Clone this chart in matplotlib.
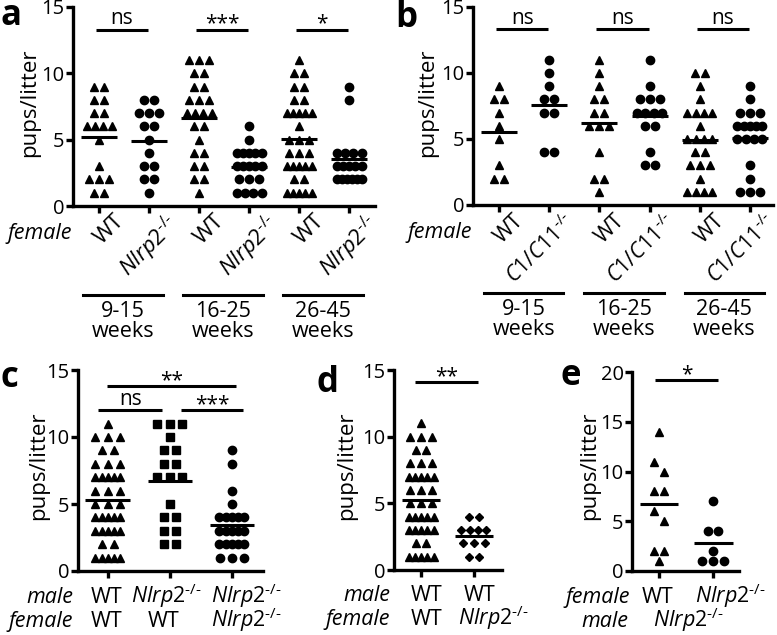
import numpy as np
import matplotlib
matplotlib.use("Agg")
import matplotlib.pyplot as plt

plt.rcParams['font.family'] = ['Open Sans', 'DejaVu Sans']
plt.rcParams['mathtext.fontset'] = 'custom'
plt.rcParams['mathtext.rm'] = 'Open Sans'
plt.rcParams['mathtext.it'] = 'Open Sans:italic'
plt.rcParams['mathtext.default'] = 'it'

# ---- data: pups per litter for every mating group ----
# panel a: WT vs Nlrp2-/- females, by age of the female
a_wt_9_15 = [9, 9, 8, 8, 7, 7, 6, 6, 6, 6, 5, 3, 2, 2, 2, 1, 1]
a_ko_9_15 = [8, 8, 7, 7, 7, 6, 6, 5, 4, 3, 3, 2, 2, 1]
a_wt_16_25 = [11, 11, 11, 10, 10, 9, 9, 8, 8, 8, 7, 7, 7, 7, 6, 6, 5, 4, 4, 3, 3, 2, 2, 1]
a_ko_16_25 = [6, 5, 4, 4, 4, 4, 4, 3, 3, 3, 3, 3, 2, 2, 2, 1, 1, 1, 1]
a_wt_26_45 = [11, 10, 10, 9, 9, 8, 8, 7, 7, 7, 7, 7, 6, 5, 5, 5, 4, 4, 4,
              3, 3, 3, 3, 3, 2, 2, 1, 1, 1, 1, 1]
a_ko_26_45 = [9, 8, 4, 4, 4, 4, 3, 3, 3, 3, 3, 2, 2, 2, 2, 2, 2]

# panel b: WT vs C1/C11-/- females
b_wt_9_15 = [9, 8, 8, 7, 6, 5, 3, 2, 2]
b_c1_9_15 = [11, 10, 9, 8, 8, 7, 7, 4, 4]
b_wt_16_25 = [11, 10, 9, 8, 8, 7, 7, 6, 6, 6, 4, 2, 2, 1]
b_c1_16_25 = [11, 9, 8, 8, 8, 7, 7, 7, 7, 6, 6, 4, 3, 3]
b_wt_26_45 = [10, 10, 9, 8, 7, 7, 7, 7, 6, 5, 5, 5, 5, 4, 4, 3, 3, 3, 2, 1, 1, 1, 1]
b_c1_26_45 = [9, 8, 7, 7, 7, 6, 6, 6, 6, 6, 5, 5, 5, 5, 3, 2, 1, 1, 1]

# panel c: male x female crosses
c_wt_wt = [11, 10, 10, 10, 9, 9, 8, 8, 8, 7, 7, 7, 7, 7, 6, 6, 6, 5, 5, 5,
           4, 4, 4, 4, 4, 3, 3, 3, 3, 3, 2, 2, 1, 1, 1, 1, 1]
c_ko_wt = [11, 11, 11, 10, 9, 9, 8, 8, 7, 7, 7, 5, 4, 4, 3, 3, 2, 2]
c_ko_ko = [9, 8, 6, 5, 4, 4, 4, 4, 4, 3, 3, 3, 3, 3, 2, 2, 2, 2, 2, 1, 1, 1]

# panel d: WT males with WT or Nlrp2-/- females
d_wt_wt = list(c_wt_wt)
d_wt_ko = [4, 4, 3, 3, 3, 3, 2, 2, 2, 1, 1]

# panel e: Nlrp2-/- males with WT or Nlrp2-/- females
e_wt_ko = [14, 11, 10, 8, 8, 6, 5, 2, 2, 1]
e_ko_ko = [7, 4, 4, 2, 1, 1, 1]

KO = '$Nlrp2^{\u2010/\u2010}$'
C1 = '$C1/C11^{\u2010/\u2010}$'

W, H = 777, 635
fig = plt.figure(figsize=(W / 100, H / 100), dpi=100)


def add_ax(l, t, r, b):
    return fig.add_axes([l / W, 1 - b / H, (r - l) / W, (b - t) / H])


def ftext(x, y, s, **kw):
    return fig.text(x / W, 1 - y / H, s, **kw)


def xpx(ax, x):
    return ax.transData.transform((x, 0))[0]


def style(ax, ngroups, xlim, ymax, ystep):
    ax.set_xlim(*xlim)
    ax.set_ylim(0, ymax)
    for s in ['top', 'right']:
        ax.spines[s].set_visible(False)
    for s in ['left', 'bottom']:
        ax.spines[s].set_linewidth(2.4)
    ax.set_yticks(np.arange(0, ymax + 1, ystep))
    ax.set_xticks(range(ngroups))
    ax.set_xticklabels([])
    ax.tick_params(width=2.4, length=5, labelsize=14.5, pad=1)


def column(ax, x, vals, marker, ms, rect):
    l, t, r, b = rect
    x0, x1 = ax.get_xlim()
    ppx = (x1 - x0) / (r - l)          # data units per pixel (x)
    upx = (b - t) / ax.get_ylim()[1]   # pixels per unit (y)
    nat = 0.2                          # natural step, in group widths
    maxspan = 25 * ppx
    levels = sorted(set(vals), reverse=True)
    counts = {v: vals.count(v) for v in levels}
    shift = {v: 0.0 for v in levels}
    for hi, lo in zip(levels[:-1], levels[1:]):
        if counts[hi] == 1 and counts[lo] == 1 and (hi - lo) * upx < 11 and shift[hi] == 0:
            shift[hi], shift[lo] = -nat / 2, nat / 2
    for v in levels:
        n = counts[v]
        step = min(nat, maxspan / (n - 1)) if n > 1 else 0
        offs = (np.arange(n) - (n - 1) / 2) * step + shift[v]
        ax.plot(x + offs, [v] * n, ls='none', marker=marker, ms=ms,
                color='black', mec='black', clip_on=False, zorder=3)
    m = np.mean(vals)
    ax.plot([x - 0.36, x + 0.36], [m, m], color='black', lw=2.2,
            solid_capstyle='butt', zorder=4)


def bracket(ax, x0, x1, y, label, off):
    ax.plot([x0, x1], [y, y], color='black', lw=2.2, clip_on=False,
            solid_capstyle='butt')
    ax.annotate(label, xy=((x0 + x1) / 2, y), xytext=(0, off),
                textcoords='offset points', ha='center', va='baseline',
                fontsize=15, annotation_clip=False)


# ---------------- panel a ----------------
ra = (73, 7, 375, 206)
ax = add_ax(*ra)
style(ax, 6, (-0.52, 5.52), 15, 5)
groups = [a_wt_9_15, a_ko_9_15, a_wt_16_25, a_ko_16_25, a_wt_26_45, a_ko_26_45]
for i, g in enumerate(groups):
    if i % 2 == 0:
        column(ax, i, g, '^', 5.8, ra)
    else:
        column(ax, i, g, 'o', 6.0, ra)
for i, lab in zip([0, 2, 4], ['ns', '***', '*']):
    bracket(ax, i - 0.06, i + 0.98, 13.3, lab, 4 if lab == 'ns' else 0)
for i in range(6):
    ftext(xpx(ax, i) + 15, 210, 'WT' if i % 2 == 0 else KO, ha='right', va='top',
          rotation=45, rotation_mode='anchor', fontsize=16)
ftext(72, 239, 'female', ha='right', va='baseline', style='italic', fontsize=15.5)
for i, lab in zip([0, 2, 4], ['9-15', '16-25', '26-45']):
    c0, c1 = xpx(ax, i - 0.32), xpx(ax, i + 1.28)
    fig.add_artist(plt.Line2D([c0 / W, c1 / W], [1 - 295 / H] * 2, color='black', lw=2.2))
    ftext((c0 + c1) / 2, 316.7, lab, ha='center', va='baseline', fontsize=15.5)
    ftext((c0 + c1) / 2, 336.7, 'weeks', ha='center', va='baseline', fontsize=15.5)
ftext(30, 103, 'pups/litter', rotation=90, ha='center', va='center', fontsize=16)
ftext(1, 25, 'a', fontweight='bold', fontsize=25, ha='left', va='baseline')

# ---------------- panel b ----------------
rb = (473, 7, 773, 205)
ax = add_ax(*rb)
style(ax, 6, (-0.52, 5.46), 15, 5)
groups = [b_wt_9_15, b_c1_9_15, b_wt_16_25, b_c1_16_25, b_wt_26_45, b_c1_26_45]
for i, g in enumerate(groups):
    if i % 2 == 0:
        column(ax, i, g, '^', 5.8, rb)
    else:
        column(ax, i, g, 'o', 6.0, rb)
for i in [0, 2, 4]:
    bracket(ax, i - 0.06, i + 0.98, 13.3, 'ns', 4)
for i in range(6):
    ftext(xpx(ax, i) + 14, 210, 'WT' if i % 2 == 0 else C1, ha='right', va='top',
          rotation=45, rotation_mode='anchor', fontsize=15.5)
ftext(472, 238, 'female', ha='right', va='baseline', style='italic', fontsize=15.5)
for i, lab in zip([0, 2, 4], ['9-15', '16-25', '26-45']):
    c0, c1 = xpx(ax, i - 0.3), xpx(ax, i + 1.28)
    fig.add_artist(plt.Line2D([c0 / W, c1 / W], [1 - 293 / H] * 2, color='black', lw=2.2))
    ftext((c0 + c1) / 2, 315, lab, ha='center', va='baseline', fontsize=15.5)
    ftext((c0 + c1) / 2, 335, 'weeks', ha='center', va='baseline', fontsize=15.5)
ftext(428, 103, 'pups/litter', rotation=90, ha='center', va='center', fontsize=16)
ftext(395, 27, 'b', fontweight='bold', fontsize=25, ha='left', va='baseline')

# ---------------- panel c ----------------
rc = (78, 370, 263, 571)
ax = add_ax(*rc)
style(ax, 3, (-0.48, 2.5), 15, 5)
column(ax, 0, c_wt_wt, '^', 5.8, rc)
column(ax, 1, c_ko_wt, 's', 5.4, rc)
column(ax, 2, c_ko_ko, 'o', 6.0, rc)
bracket(ax, -0.02, 2.06, 13.8, '**', 0)
bracket(ax, -0.15, 0.87, 12.0, 'ns', 4)
bracket(ax, 1.18, 2.18, 12.0, '***', 0)
ftext(73, 603, 'male', ha='right', va='baseline', style='italic', fontsize=15.5)
ftext(73, 627, 'female', ha='right', va='baseline', style='italic', fontsize=15.5)
for x, lab in zip([107, 166, 246], ['WT', KO, KO]):
    ftext(x, 603, lab, ha='center', va='baseline', fontsize=15.5)
for x, lab in zip([107, 164, 246], ['WT', 'WT', KO]):
    ftext(x, 627, lab, ha='center', va='baseline', fontsize=15.5)
ftext(39, 466, 'pups/litter', rotation=90, ha='center', va='center', fontsize=16)
ftext(0, 387, 'c', fontweight='bold', fontsize=25, ha='left', va='baseline')

# ---------------- panel d ----------------
rd = (394, 370, 502, 570)
ax = add_ax(*rd)
style(ax, 2, (-0.51, 1.53), 15, 5)
column(ax, 0, d_wt_wt, '^', 5.8, rd)
column(ax, 1, d_wt_ko, 'D', 4.4, rd)
bracket(ax, -0.11, 1.08, 14.1, '**', 0)
ftext(390, 601, 'male', ha='right', va='baseline', style='italic', fontsize=15.5)
ftext(390, 625, 'female', ha='right', va='baseline', style='italic', fontsize=15.5)
for x, lab in zip([427, 480], ['WT', 'WT']):
    ftext(x, 601, lab, ha='center', va='baseline', fontsize=15.5)
for x, lab in zip([427, 493], ['WT', KO]):
    ftext(x, 625, lab, ha='center', va='baseline', fontsize=15.5)
ftext(347, 466, 'pups/litter', rotation=90, ha='center', va='center', fontsize=16)
ftext(317, 392, 'd', fontweight='bold', fontsize=25, ha='left', va='baseline')

# ---------------- panel e ----------------
re_ = (632, 372, 739, 571)
ax = add_ax(*re_)
style(ax, 2, (-0.5, 1.48), 20, 5)
column(ax, 0, e_wt_ko, '^', 5.8, re_)
column(ax, 1, e_ko_ko, 'o', 6.0, re_)
bracket(ax, -0.07, 1.09, 19.2, '*', 0)
ftext(630, 603, 'female', ha='right', va='baseline', style='italic', fontsize=15.5)
ftext(628, 627, 'male', ha='right', va='baseline', style='italic', fontsize=15.5)
ftext(658, 603, 'WT', ha='center', va='baseline', fontsize=15.5)
ftext(730, 603, KO, ha='center', va='baseline', fontsize=15.5)
ftext(688, 627, KO, ha='center', va='baseline', fontsize=15.5)
ftext(590, 466, 'pups/litter', rotation=90, ha='center', va='center', fontsize=16)
ftext(560, 385, 'e', fontweight='bold', fontsize=25, ha='left', va='baseline')

fig.savefig('out.png', dpi=100)
